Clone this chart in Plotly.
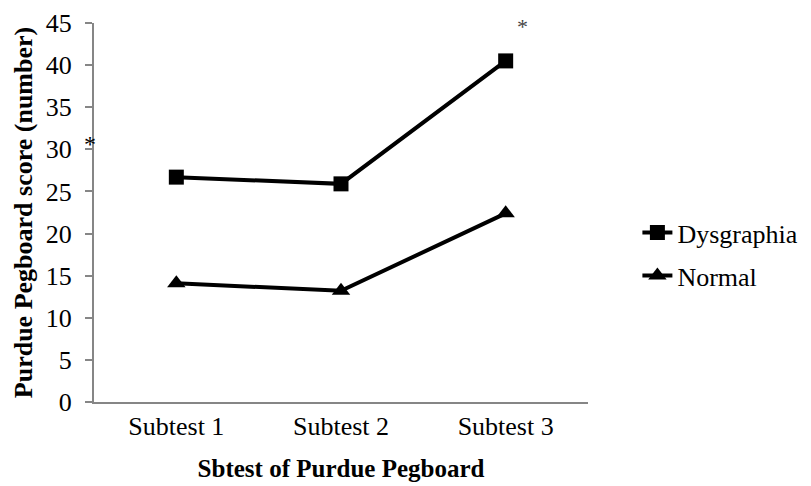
import plotly.graph_objects as go

categories = ["Subtest 1", "Subtest 2", "Subtest 3"]
dysgraphia = [26.7, 25.9, 40.5]
normal = [14.1, 13.2, 22.4]
y_ticks = [0, 5, 10, 15, 20, 25, 30, 35, 40, 45]

FONT = "Liberation Serif, Times New Roman, serif"
AXIS_GRAY = "#868686"

fig = go.Figure()
fig.add_trace(go.Scatter(
    x=categories, y=dysgraphia, name="Dysgraphia", mode="lines+markers",
    line=dict(color="black", width=4),
    marker=dict(symbol="square", size=15, color="black"),
    legendgroup="a",
))
fig.add_trace(go.Scatter(
    x=categories, y=normal, name="Normal", mode="lines+markers",
    line=dict(color="black", width=4),
    marker=dict(symbol="triangle-up", size=16, color="black"),
    legendgroup="b",
))

fig.add_annotation(x=-0.024, y=30.6, xref="paper", yref="y", text="*",
                   showarrow=False, font=dict(family=FONT, size=24, color="black"))
fig.add_annotation(x=2.1, y=44.6, xref="x", yref="y", text="*",
                   showarrow=False, font=dict(family=FONT, size=22, color="#444"))

fig.update_layout(
    width=811, height=486,
    margin=dict(l=86, r=231, t=15, b=92, autoexpand=False),
    paper_bgcolor="white", plot_bgcolor="white",
    font=dict(family=FONT, size=26, color="black"),
    showlegend=True,
    legend=dict(x=1.10, y=0.39, xanchor="left", yanchor="middle",
                font=dict(family=FONT, size=26, color="black"),
                tracegroupgap=6, itemwidth=30, bgcolor="rgba(0,0,0,0)"),
    xaxis=dict(
        type="category", range=[-0.5, 2.5],
        showline=True, linecolor=AXIS_GRAY, linewidth=2,
        ticks="", showgrid=False, zeroline=False, automargin=False,
        tickfont=dict(family=FONT, size=26, color="black"),
        title=dict(text="<b>Sbtest of Purdue Pegboard</b>",
                   font=dict(family=FONT, size=25, color="black"), standoff=19),
    ),
    yaxis=dict(
        range=[0, 45], tickvals=y_ticks,
        showline=True, linecolor=AXIS_GRAY, linewidth=2,
        ticks="outside", ticklen=7, tickcolor=AXIS_GRAY, tickwidth=2,
        ticklabelstandoff=8,
        showgrid=False, zeroline=False, automargin=False,
        tickfont=dict(family=FONT, size=26, color="black"),
        title=dict(text="<b>Purdue Pegboard score (number)</b>",
                   font=dict(family=FONT, size=26, color="black"), standoff=6),
    ),
)

fig.write_html("out.html")
